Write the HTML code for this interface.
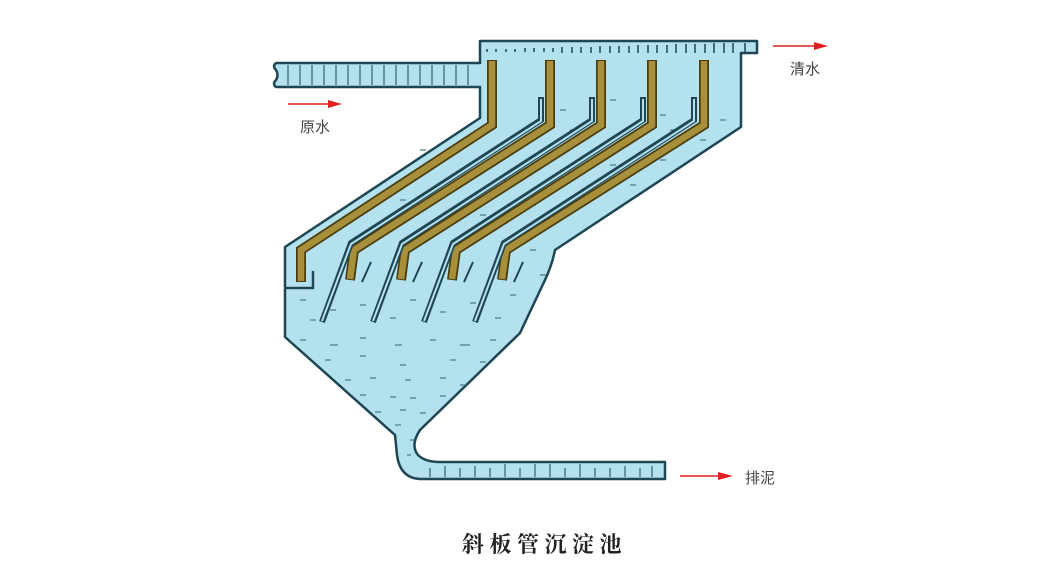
<!DOCTYPE html>
<html><head><meta charset="utf-8">
<style>
html,body{margin:0;padding:0;background:#fff;}
svg{display:block;}
</style></head>
<body>
<svg width="1042" height="578" viewBox="0 0 1042 578" xmlns="http://www.w3.org/2000/svg">
<!-- tank body -->
<path d="M480,41 L757,41 L757,53 L741,53 L741,127 L555,250 Q552,265 545,280 L520,333 L420,430 Q410,445 418,455 Q425,462 440,462 L665,462 L665,479 L420,479 Q400,478 397,455 L395,435 L285,337 L285,247 L480,118 L480,87 L276,87 Q272,84 276,80 Q279,75 276,70 Q272,66 276,63 L480,63 Z" fill="#b3e1ee" stroke="#1e4653" stroke-width="2.5" stroke-linejoin="round"/>
<!-- overflow ticks -->
<g stroke="#1e4653" stroke-width="1.5">
<line x1="487" y1="49" x2="487" y2="52"/><line x1="496" y1="49" x2="496" y2="52"/><line x1="506" y1="49" x2="506" y2="52"/><line x1="515" y1="49" x2="515" y2="52"/><line x1="525" y1="48" x2="525" y2="52"/><line x1="534" y1="48" x2="534" y2="52"/><line x1="544" y1="48" x2="544" y2="52"/><line x1="553" y1="48" x2="553" y2="52"/><line x1="562" y1="47" x2="562" y2="53"/><line x1="572" y1="47" x2="572" y2="53"/><line x1="581" y1="47" x2="581" y2="53"/><line x1="591" y1="47" x2="591" y2="53"/><line x1="600" y1="46" x2="600" y2="53"/><line x1="610" y1="46" x2="610" y2="53"/><line x1="619" y1="46" x2="619" y2="53"/><line x1="629" y1="46" x2="629" y2="53"/><line x1="638" y1="45" x2="638" y2="53"/><line x1="648" y1="45" x2="648" y2="53"/><line x1="657" y1="45" x2="657" y2="53"/><line x1="667" y1="45" x2="667" y2="53"/><line x1="676" y1="44" x2="676" y2="53"/><line x1="686" y1="44" x2="686" y2="53"/><line x1="695" y1="44" x2="695" y2="53"/><line x1="705" y1="44" x2="705" y2="53"/><line x1="714" y1="43" x2="714" y2="53"/><line x1="724" y1="43" x2="724" y2="53"/><line x1="733" y1="43" x2="733" y2="53"/><line x1="745" y1="43" x2="745" y2="53"/>
</g>
<!-- inlet pipe ticks -->
<g stroke="#1e4653" stroke-width="1">
<line x1="288" y1="65" x2="288" y2="85"/><line x1="300" y1="65" x2="300" y2="85"/><line x1="312" y1="65" x2="312" y2="85"/><line x1="324" y1="65" x2="324" y2="85"/><line x1="336" y1="65" x2="336" y2="85"/><line x1="348" y1="65" x2="348" y2="85"/><line x1="360" y1="65" x2="360" y2="85"/><line x1="372" y1="65" x2="372" y2="85"/><line x1="384" y1="65" x2="384" y2="85"/><line x1="396" y1="65" x2="396" y2="85"/><line x1="408" y1="65" x2="408" y2="85"/><line x1="420" y1="65" x2="420" y2="85"/><line x1="432" y1="65" x2="432" y2="85"/><line x1="444" y1="65" x2="444" y2="85"/><line x1="456" y1="65" x2="456" y2="85"/><line x1="468" y1="65" x2="468" y2="85"/>
</g>
<!-- sludge pipe ticks -->
<g stroke="#1e4653" stroke-width="1">
<line x1="430" y1="468" x2="430" y2="477"/><line x1="445" y1="466" x2="445" y2="477"/><line x1="460" y1="468" x2="460" y2="477"/><line x1="475" y1="466" x2="475" y2="477"/><line x1="490" y1="468" x2="490" y2="477"/><line x1="505" y1="464" x2="505" y2="477"/><line x1="520" y1="468" x2="520" y2="477"/><line x1="535" y1="464" x2="535" y2="477"/><line x1="550" y1="464" x2="550" y2="477"/><line x1="565" y1="468" x2="565" y2="477"/><line x1="580" y1="464" x2="580" y2="477"/><line x1="595" y1="468" x2="595" y2="477"/><line x1="610" y1="468" x2="610" y2="477"/><line x1="625" y1="466" x2="625" y2="477"/><line x1="640" y1="468" x2="640" y2="477"/><line x1="652" y1="466" x2="652" y2="477"/>
</g>
<!-- baffle -->
<polyline points="285,288 313,288 313,271" fill="none" stroke="#1e4653" stroke-width="2.5"/>
<!-- sediment dashes -->
<g stroke="#4a7a86" stroke-width="1.2">
<line x1="300" y1="300" x2="306" y2="300"/><line x1="330" y1="310" x2="336" y2="310"/><line x1="310" y1="320" x2="316" y2="320"/><line x1="360" y1="305" x2="366" y2="305"/><line x1="390" y1="318" x2="396" y2="318"/><line x1="410" y1="300" x2="416" y2="300"/><line x1="440" y1="312" x2="446" y2="312"/><line x1="470" y1="303" x2="476" y2="303"/><line x1="495" y1="318" x2="501" y2="318"/><line x1="510" y1="295" x2="516" y2="295"/><line x1="300" y1="340" x2="306" y2="340"/><line x1="330" y1="345" x2="338" y2="345"/><line x1="360" y1="338" x2="366" y2="338"/><line x1="395" y1="345" x2="402" y2="345"/><line x1="430" y1="340" x2="436" y2="340"/><line x1="460" y1="345" x2="470" y2="345"/><line x1="490" y1="340" x2="496" y2="340"/><line x1="325" y1="360" x2="331" y2="360"/><line x1="360" y1="356" x2="366" y2="356"/><line x1="400" y1="365" x2="406" y2="365"/><line x1="450" y1="360" x2="456" y2="360"/><line x1="480" y1="362" x2="486" y2="362"/><line x1="345" y1="380" x2="351" y2="380"/><line x1="370" y1="378" x2="376" y2="378"/><line x1="405" y1="380" x2="411" y2="380"/><line x1="440" y1="378" x2="446" y2="378"/><line x1="460" y1="385" x2="466" y2="385"/><line x1="360" y1="395" x2="366" y2="395"/><line x1="390" y1="397" x2="396" y2="397"/><line x1="410" y1="398" x2="416" y2="398"/><line x1="440" y1="396" x2="446" y2="396"/><line x1="375" y1="412" x2="381" y2="412"/><line x1="400" y1="410" x2="406" y2="410"/><line x1="420" y1="413" x2="426" y2="413"/><line x1="395" y1="425" x2="401" y2="425"/><line x1="410" y1="440" x2="414" y2="440"/><line x1="407" y1="455" x2="411" y2="455"/>
<line x1="420" y1="150" x2="426" y2="150"/><line x1="470" y1="165" x2="476" y2="165"/><line x1="520" y1="140" x2="526" y2="140"/><line x1="570" y1="130" x2="576" y2="130"/><line x1="620" y1="140" x2="626" y2="140"/><line x1="670" y1="130" x2="676" y2="130"/><line x1="720" y1="120" x2="726" y2="120"/><line x1="400" y1="200" x2="406" y2="200"/><line x1="450" y1="190" x2="456" y2="190"/><line x1="500" y1="180" x2="506" y2="180"/><line x1="560" y1="170" x2="566" y2="170"/><line x1="610" y1="165" x2="616" y2="165"/><line x1="660" y1="160" x2="666" y2="160"/><line x1="700" y1="140" x2="706" y2="140"/><line x1="380" y1="230" x2="386" y2="230"/><line x1="430" y1="225" x2="436" y2="225"/><line x1="480" y1="215" x2="486" y2="215"/><line x1="530" y1="205" x2="536" y2="205"/><line x1="580" y1="195" x2="586" y2="195"/><line x1="630" y1="185" x2="636" y2="185"/><line x1="560" y1="110" x2="566" y2="110"/><line x1="610" y1="100" x2="616" y2="100"/><line x1="660" y1="115" x2="666" y2="115"/><line x1="530" y1="250" x2="536" y2="250"/><line x1="540" y1="275" x2="546" y2="275"/>
</g>
<!-- plates -->
<g fill="none" stroke-linejoin="miter">
<g stroke="#4a3e10" stroke-width="10">
<polyline points="492,60 492,125 301,250 301,282"/>
<polyline points="550,60 550,125 354,250 350,280"/>
<polyline points="601,60 601,125 405,250 401,280"/>
<polyline points="652,60 652,125 456,250 452,280"/>
<polyline points="704,60 704,125 506,250 502,280"/>
</g>
<g stroke="#a88f3c" stroke-width="6.5">
<polyline points="492,61 492,125 301,250 301,281"/>
<polyline points="550,61 550,125 354,250 350,279"/>
<polyline points="601,61 601,125 405,250 401,279"/>
<polyline points="652,61 652,125 456,250 452,279"/>
<polyline points="704,61 704,125 506,250 502,279"/>
</g>
</g>
<!-- tubes (double lines) -->
<g fill="none">
<g stroke="#1e4653" stroke-width="6">
<polyline points="541,97 541,120 351,243 322,322"/>
<polyline points="592,97 592,120 402,243 373,322"/>
<polyline points="643,97 643,120 453,243 424,322"/>
<polyline points="694,97 694,120 504,243 475,322"/>
</g>
<g stroke="#b3e1ee" stroke-width="2">
<polyline points="541,99 541,121 351,244 322,321"/>
<polyline points="592,99 592,121 402,244 373,321"/>
<polyline points="643,99 643,121 453,244 424,321"/>
<polyline points="694,99 694,121 504,244 475,321"/>
</g>
<g stroke="#1e4653" stroke-width="2">
<line x1="371" y1="262" x2="362" y2="282"/>
<line x1="422" y1="262" x2="413" y2="282"/>
<line x1="473" y1="262" x2="464" y2="282"/>
<line x1="523" y1="262" x2="514" y2="282"/>
</g>
</g>
<!-- arrows -->
<g stroke="#e02020" stroke-width="1.5" fill="#e02020">
<line x1="288" y1="104" x2="330" y2="104"/><polygon points="328,100 342,104 328,108" stroke="none"/>
<line x1="773" y1="46" x2="816" y2="46"/><polygon points="814,42 828,46 814,50" stroke="none"/>
<line x1="680" y1="476" x2="720" y2="476"/><polygon points="718,472 733,476 718,480" stroke="none"/>
</g>
<g font-family="'Liberation Sans','Noto Sans CJK SC',sans-serif" font-size="15" fill="#444">
<text x="300" y="132">原水</text>
<text x="790" y="74">清水</text>
<text x="745" y="483">排泥</text>
</g>
<text x="462" y="552" font-family="'Noto Serif CJK SC','WenQuanYi Zen Hei',serif" font-size="22" font-weight="bold" letter-spacing="5.5" fill="#222">斜板管沉淀池</text>
</svg>
</body></html>
